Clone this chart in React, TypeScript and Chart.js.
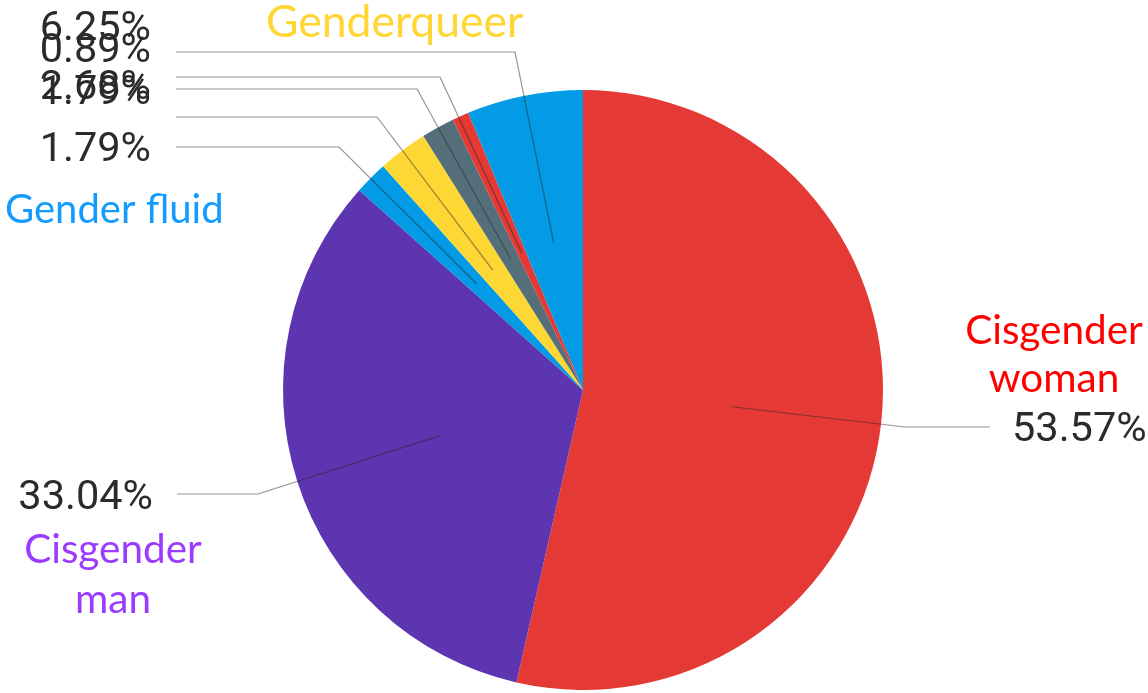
import React, { useEffect, useRef } from "react";
import { Chart, registerables } from "chart.js";

Chart.register(...registerables);

// ---- data ----
const categories = [
  "Cisgender woman",
  "Cisgender man",
  "Gender fluid",
  "Category 4",
  "Category 5",
  "Category 6",
  "Genderqueer",
];
const values = [53.57, 33.04, 1.79, 2.68, 1.79, 0.89, 6.25];
const sliceColors = ["#E53935", "#5E35B1", "#039BE5", "#FDD835", "#546E7A", "#E53935", "#039BE5"];
const percentLabels = values.map((v) => v.toFixed(2) + "%");

// ---- annotation layout (leader elbows, label anchors) ----
type LabelLayout = { ex: number; ey: number; endX: number; tx: number; ty: number; align: CanvasTextAlign };
const labelLayout: LabelLayout[] = [
  { ex: 905, ey: 427, endX: 990, tx: 1012, ty: 441, align: "left" },
  { ex: 258, ey: 494, endX: 177, tx: 153, ty: 509, align: "right" },
  { ex: 339, ey: 147, endX: 176, tx: 151, ty: 161, align: "right" },
  { ex: 377, ey: 117, endX: 176, tx: 151, ty: 99, align: "right" },
  { ex: 417, ey: 89, endX: 176, tx: 151, ty: 104, align: "right" },
  { ex: 440, ey: 77, endX: 176, tx: 151, ty: 62, align: "right" },
  { ex: 515, ey: 52, endX: 176, tx: 151, ty: 40, align: "right" },
];

type CatText = { lines: string[]; color: string; x: number; ys: number[]; align: CanvasTextAlign; size: number };
const categoryTexts: CatText[] = [
  { lines: ["Cisgender", "woman"], color: "#FF0000", x: 1054, ys: [344, 392], align: "center", size: 40.5 },
  { lines: ["Cisgender", "man"], color: "#9B3BFF", x: 113, ys: [563, 613], align: "center", size: 40.5 },
  { lines: ["Gender fluid"], color: "#139BFF", x: 5, ys: [223], align: "left", size: 40 },
  { lines: ["Genderqueer"], color: "#FFD633", x: 266, ys: [37], align: "left", size: 44.5 },
];

const leaderPlugin = {
  id: "leaderLabels",
  afterDatasetsDraw(chart: any) {
    const ctx: CanvasRenderingContext2D = chart.ctx;
    const meta = chart.getDatasetMeta(0);
    ctx.save();
    meta.data.forEach((arc: any, i: number) => {
      const p = arc.getProps(["x", "y", "startAngle", "endAngle", "outerRadius"], true);
      const mid = (p.startAngle + p.endAngle) / 2;
      const sx = p.x + Math.cos(mid) * p.outerRadius * 0.5;
      const sy = p.y + Math.sin(mid) * p.outerRadius * 0.5;
      const L = labelLayout[i];
      ctx.beginPath();
      ctx.moveTo(sx, sy);
      ctx.lineTo(L.ex, L.ey);
      ctx.lineTo(L.endX, L.ey);
      ctx.strokeStyle = "rgba(40,40,40,0.5)";
      ctx.lineWidth = 1.2;
      ctx.stroke();
      ctx.font = "41.5px Roboto";
      ctx.fillStyle = "#2b2b2b";
      ctx.textAlign = L.align;
      ctx.textBaseline = "alphabetic";
      ctx.fillText(percentLabels[i], L.tx, L.ty);
    });
    categoryTexts.forEach((t) => {
      ctx.font = `${t.size}px Lato`;
      ctx.fillStyle = t.color;
      ctx.textAlign = t.align;
      ctx.textBaseline = "alphabetic";
      t.lines.forEach((line, k) => ctx.fillText(line, t.x, t.ys[k]));
    });
    ctx.restore();
  },
};

export default function App() {
  const ref = useRef<HTMLCanvasElement>(null);
  useEffect(() => {
    if (!ref.current) return;
    const chart = new Chart(ref.current, {
      type: "pie",
      data: {
        labels: categories,
        datasets: [
          {
            data: values,
            backgroundColor: sliceColors,
            borderWidth: 0,
            hoverOffset: 0,
            radius: 300,
          } as any,
        ],
      },
      options: {
        responsive: false,
        animation: false,
        devicePixelRatio: 1,
        layout: { padding: { left: 283, right: 265, top: 90, bottom: 3 } },
        plugins: { legend: { display: false }, tooltip: { enabled: false } },
      },
      plugins: [leaderPlugin],
    });
    Promise.all([
      (document as any).fonts?.load("41.5px Roboto"),
      (document as any).fonts?.load("43px Lato"),
    ])
      .then(() => chart.draw())
      .catch(() => {});
    return () => chart.destroy();
  }, []);
  return (
    <div style={{ position: "absolute", left: 0, top: 0, width: 1148, height: 693, background: "#fff" }}>
      <canvas ref={ref} width={1148} height={693} style={{ display: "block" }} />
    </div>
  );
}
